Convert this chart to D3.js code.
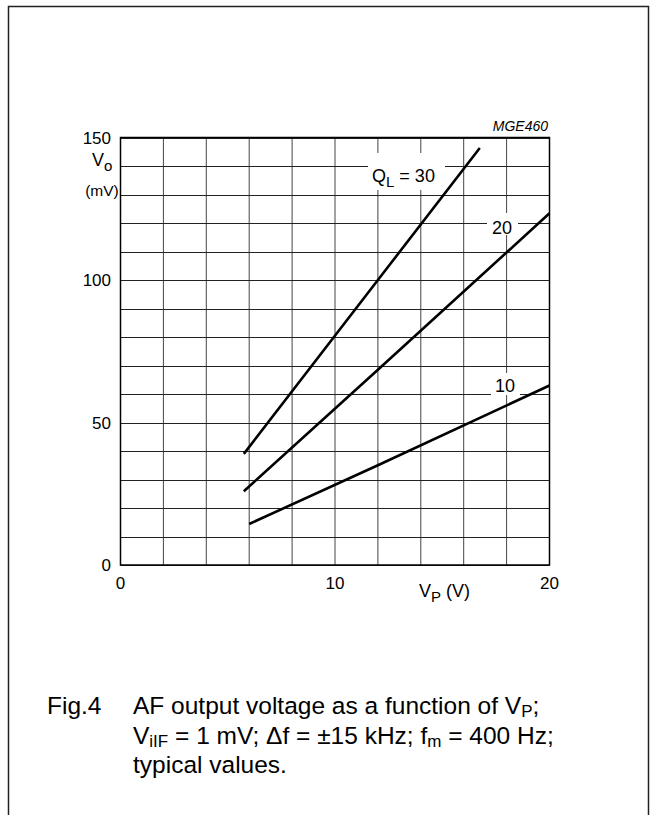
<!DOCTYPE html>
<html>
<head>
<meta charset="utf-8">
<script src="https://cdn.jsdelivr.net/npm/d3@7"></script>
<style>
  html, body { margin: 0; padding: 0; background: #fff; }
  svg { display: block; font-family: "Liberation Sans", Arial, sans-serif; }
</style>
</head>
<body>
<svg id="chart" width="651" height="815"></svg>
<script>
// ---- data ----
const xTicks = [0, 10, 20];
const yTicks = [0, 50, 100, 150];
const xGrid = [0, 2, 4, 6, 8, 10, 12, 14, 16, 18, 20];
const yGrid = [0, 10, 20, 30, 40, 50, 60, 70, 80, 90, 100, 110, 120, 130, 140, 150];
const seriesNames = ["30", "20", "10"];
const vpQ30 = [5.75, 12, 16.75];
const voQ30 = [39, 100, 146.3];
const vpQ20 = [5.75, 12, 20];
const voQ20 = [25.9, 68.5, 123.4];
const vpQ10 = [6, 12, 20];
const voQ10 = [14.4, 35, 63];

const svg = d3.select("#chart");
const W = 651, H = 815;

// outer frame
svg.append("path")
  .attr("d", `M8.5,${H + 2} L8.5,6.5 L648.5,6.5 L648.5,${H + 2}`)
  .attr("fill", "none").attr("stroke", "#222").attr("stroke-width", 1.5);

const x = d3.scaleLinear().domain([0, 20]).range([120.5, 549.5]);
const y = d3.scaleLinear().domain([0, 150]).range([565, 137.5]);

const g = svg.append("g");

// grid
g.selectAll("line.vg").data(xGrid).enter().append("line")
  .attr("x1", d => x(d)).attr("x2", d => x(d))
  .attr("y1", y(0)).attr("y2", y(150))
  .attr("stroke", "#444").attr("stroke-width", 1);
g.selectAll("line.hg").data(yGrid).enter().append("line")
  .attr("y1", d => Math.round(y(d)) + 0.5).attr("y2", d => Math.round(y(d)) + 0.5)
  .attr("x1", x(0)).attr("x2", x(20))
  .attr("stroke", "#222").attr("stroke-width", 1);

// plot border
g.append("rect")
  .attr("x", x(0)).attr("y", y(150))
  .attr("width", x(20) - x(0)).attr("height", y(0) - y(150))
  .attr("fill", "none").attr("stroke", "#000").attr("stroke-width", 1.5);

// curves
const series = [
  { name: seriesNames[0], xs: vpQ30, ys: voQ30 },
  { name: seriesNames[1], xs: vpQ20, ys: voQ20 },
  { name: seriesNames[2], xs: vpQ10, ys: voQ10 }
];
const line = d3.line().x(d => x(d[0])).y(d => y(d[1]));
series.forEach(s => {
  g.append("path")
    .datum(s.xs.map((v, i) => [v, s.ys[i]]))
    .attr("d", line)
    .attr("fill", "none").attr("stroke", "#000").attr("stroke-width", 2.6);
});

// curve labels with white backgrounds
function whiteBox(x0, y0, w, h) {
  g.append("rect").attr("x", x0).attr("y", y0).attr("width", w).attr("height", h).attr("fill", "#fff");
}
whiteBox(368, 153, 77, 37);
const ql = g.append("text").attr("x", 372).attr("y", 182).attr("font-size", 18).attr("fill", "#000");
ql.append("tspan").text("Q");
ql.append("tspan").attr("dy", 5).attr("font-size", 15).text("L");
ql.append("tspan").attr("dy", -5).text(" = " + seriesNames[0]);

whiteBox(487, 213, 31, 22);
g.append("text").attr("x", 502).attr("y", 234).attr("text-anchor", "middle")
  .attr("font-size", 18).text(seriesNames[1]);

whiteBox(491, 373, 29, 22);
g.append("text").attr("x", 505).attr("y", 392).attr("text-anchor", "middle")
  .attr("font-size", 18).text(seriesNames[2]);

// axis tick labels
g.selectAll("text.yt").data(yTicks).enter().append("text")
  .attr("x", 111).attr("y", d => y(d) + 6)
  .attr("text-anchor", "end").attr("font-size", 17).text(d => d);
g.selectAll("text.xt").data(xTicks).enter().append("text")
  .attr("x", d => x(d)).attr("y", 589)
  .attr("text-anchor", "middle").attr("font-size", 17).text(d => d);

// axis titles
const yt = g.append("text").attr("x", 92).attr("y", 166).attr("font-size", 18);
yt.append("tspan").text("V");
yt.append("tspan").attr("dy", 5).attr("font-size", 15).text("o");
g.append("text").attr("x", 102).attr("y", 196).attr("text-anchor", "middle")
  .attr("font-size", 15.5).text("(mV)");

const xt = g.append("text").attr("x", 419).attr("y", 597).attr("font-size", 18);
xt.append("tspan").text("V");
xt.append("tspan").attr("dy", 5).attr("font-size", 15).text("P");
xt.append("tspan").attr("dy", -5).text(" (V)");

// figure code
g.append("text").attr("x", 548).attr("y", 131).attr("text-anchor", "end")
  .attr("font-size", 14).attr("font-style", "italic").text("MGE460");

// caption
const fs = 24.5;
const sub = 17;
const cap = svg.append("g").attr("font-size", fs).attr("fill", "#000");
cap.append("text").attr("x", 47).attr("y", 714).text("Fig.4");
const l1 = cap.append("text").attr("x", 133).attr("y", 714);
l1.append("tspan").text("AF output voltage as a function of V");
l1.append("tspan").attr("dy", 3).attr("font-size", sub).text("P");
l1.append("tspan").attr("dy", -3).text(";");
const l2 = cap.append("text").attr("x", 133).attr("y", 744);
l2.append("tspan").text("V");
l2.append("tspan").attr("dy", 3).attr("font-size", sub).text("iIF");
l2.append("tspan").attr("dy", -3).text(" = 1 mV; \u0394f = \u00B115 kHz; f");
l2.append("tspan").attr("dy", 3).attr("font-size", sub).text("m");
l2.append("tspan").attr("dy", -3).text(" = 400 Hz;");
cap.append("text").attr("x", 133).attr("y", 773).text("typical values.");
</script>
</body>
</html>
